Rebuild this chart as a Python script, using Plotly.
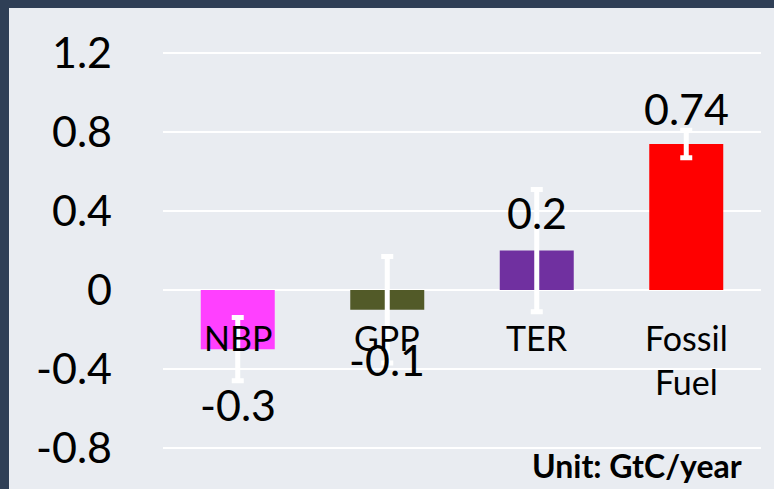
import plotly.graph_objects as go

# ---- data ----
categories = ["NBP", "GPP", "TER", "Fossil<br>Fuel"]
values = [-0.3, -0.1, 0.2, 0.74]
errors = [0.16, 0.27, 0.31, 0.07]
value_labels = ["-0.3", "-0.1", "0.2", "0.74"]
tick_vals = [-0.8, -0.4, 0, 0.4, 0.8, 1.2]
tick_text = ["-0.8", "-0.4", "0", "0.4", "0.8", "1.2"]
unit_text = "Unit: GtC/year"

# ---- styles ----
bar_colors = ["#ff40ff", "#525a28", "#7030a0", "#ff0000"]
label_shifts = [-55, -50, 38, 36]
BG = "#e9ecf1"
BORDER = "#2f3f56"
FONT = "Lato, 'Open Sans', sans-serif"

W, H = 774, 489
ML, MR, MT, MB = 163, 13, 8, 0
PW, PH = W - ML - MR, H - MT - MB

fig = go.Figure()
fig.add_trace(go.Bar(
    x=categories, y=values,
    marker=dict(color=bar_colors, line=dict(width=0)),
    error_y=dict(type="data", array=errors, visible=True,
                 color="white", thickness=5, width=6),
    hoverinfo="skip",
))

annotations = []
# value labels
for c, v, t, s in zip(categories, values, value_labels, label_shifts):
    annotations.append(dict(x=c, y=v, xref="x", yref="y", text=t, showarrow=False,
                            yshift=s, yanchor="middle", xanchor="center",
                            font=dict(family=FONT, size=43, color="black")))
# category labels inside plot
for c in categories:
    annotations.append(dict(x=c, y=-0.128, xref="x", yref="y", text=c, showarrow=False,
                            yanchor="top", xanchor="center",
                            font=dict(family=FONT, size=34, color="black")))
# unit
annotations.append(dict(x=(744 - ML) / PW, y=(H - 465 - MB) / PH, xref="paper", yref="paper",
                        text="<b>" + unit_text + "</b>", showarrow=False,
                        xanchor="right", yanchor="middle",
                        font=dict(family=FONT, size=32, color="black")))

def px_x(p):
    return (p - ML) / PW

def px_y(p):
    return (H - MB - p) / PH

# light panel over the dark paper, leaving a dark band at top and left
shapes = [
    dict(type="rect", xref="paper", yref="paper", x0=px_x(9), x1=px_x(W + 2), y0=px_y(H + 2), y1=px_y(8),
         fillcolor=BG, line=dict(width=0), layer="below"),
]

ppu = 197.25
zero_px = 290
y_top = (zero_px - MT) / ppu
y_bot = (zero_px - (H - MB)) / ppu

fig.update_layout(
    width=W, height=H,
    margin=dict(l=ML, r=MR, t=MT, b=MB, pad=0),
    paper_bgcolor=BORDER, plot_bgcolor=BG,
    showlegend=False,
    bargap=0.505,
    xaxis=dict(showticklabels=False, showgrid=False, zeroline=False, showline=False,
               ticks="", range=[-0.5, 3.5]),
    yaxis=dict(range=[y_bot, y_top], tickvals=tick_vals, ticktext=tick_text,
               showgrid=True, gridcolor="white", gridwidth=2,
               zeroline=True, zerolinecolor="white", zerolinewidth=2,
               showline=False, ticks="", ticklabelstandoff=50,
               tickfont=dict(family=FONT, size=43, color="black")),
    annotations=annotations,
    shapes=shapes,
)

fig.write_html("out.html", config={"displayModeBar": False},
               post_script="document.body.style.margin='0';document.body.style.overflow='hidden';")
